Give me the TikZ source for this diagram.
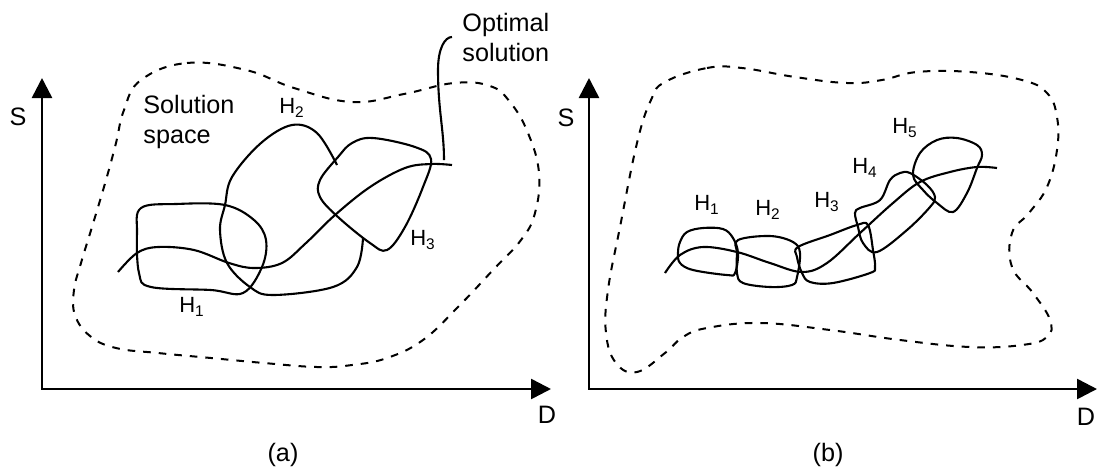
\documentclass[tikz,border=0pt]{standalone}
\usepackage{fontspec}
\setmainfont{Liberation Sans}
\usetikzlibrary{arrows.meta}

\begin{document}
\begin{tikzpicture}[x=0.5pt, y=-0.5pt,
  axis/.style={line width=1.3pt, {Triangle[length=10pt,width=10pt]}-{Triangle[length=10pt,width=10pt]}},
  region/.style={line width=1pt, dash pattern=on 3.8pt off 4pt},
  blob/.style={line width=1.05pt},
  lbl/.style={font=\fontsize{12.6}{15}\selectfont, inner sep=0pt},
  hlbl/.style={font=\fontsize{11}{12}\selectfont, inner sep=0pt}]

\useasboundingbox (0,0) rectangle (1098,473);

% (a) axes
\coordinate (Oa) at (42,389);
\coordinate (Ya) at (42,78);
\coordinate (Xa) at (551,389);
\draw[axis] (Ya) -- (Oa) -- (Xa);
\node[lbl] (Sa) at (18,117) {S};
\node[lbl] (Da) at (547,415) {D};
\node[lbl] (capa) at (283,455) {(a)};

% (a) solution space
\draw[region] plot[smooth cycle, tension=0.7] coordinates {(141,80) (187,63) (246,70) (294,88) (352,102) (404,94) (454,83) (490,86) (510,102) (528,133) (539,173) (535,213) (521,240) (493,270) (458,307) (423,340) (387,358) (352,365) (317,367) (264,363) (211,358) (158,353) (116,348) (90,336) (75,315) (74,290) (81,263) (92,227) (106,180) (116,143) (124,110)};
\node[lbl, anchor=west, align=left] (space) at (143,122) {Solution\\space};

% (a) search regions
\draw[blob] plot[smooth cycle, tension=0.6] coordinates {(141,208) (176,204) (225,205) (254,220) (266,240) (262,267) (243,293) (211,290) (151,287) (139,273) (137,233)};
\draw[blob] plot[smooth, tension=0.6] coordinates {(363,238) (357,267) (333,287) (273,295) (250,287) (227,263) (220,230) (225,205) (232,177) (261,143) (292,125) (317,133) (337,165)};
\draw[blob] plot[smooth cycle, tension=0.6] coordinates {(352,143) (373,138) (415,147) (431,159) (423,187) (405,227) (387,250) (370,243) (338,217) (320,197) (320,180) (338,157)};
\node[hlbl] (h1a) at (192,307) {H\textsubscript{1}};
\node[hlbl] (h2a) at (292,108) {H\textsubscript{2}};
\node[hlbl] (h3a) at (423,240) {H\textsubscript{3}};

% (a) path of the search
\draw[blob] plot[smooth, tension=0.6] coordinates {(118,272) (137,253) (158,247) (194,250) (229,263) (254,268) (282,263) (306,243) (335,215) (370,187) (405,168) (431,164) (452,165)};
\coordinate (opta) at (444,160);
\node[lbl, anchor=west, align=left] (opt) at (462,37) {Optimal\\solution};
\draw[blob] ([xshift=-5]opt.west) .. controls (445,37) and (438,48) .. (438,70) .. controls (438,110) and (444,130) .. (opta);

% (b) axes
\coordinate (Ob) at (589,389);
\coordinate (Yb) at (589,78);
\coordinate (Xb) at (1097,389);
\draw[axis] (Yb) -- (Ob) -- (Xb);
\node[lbl] (Sb) at (566,118) {S};
\node[lbl] (Db) at (1086,417) {D};
\node[lbl] (capb) at (828,455) {(b)};

% (b) solution space
\draw[region] plot[smooth cycle, tension=0.7] coordinates {(665,82) (707,68) (742,68) (795,77) (847,83) (882,80) (917,72) (970,72) (1022,80) (1047,93) (1057,117) (1057,150) (1047,187) (1029,213) (1012,233) (1012,267) (1033,293) (1050,320) (1047,337) (1022,345) (970,347) (900,340) (830,330) (760,323) (707,328) (683,337) (665,353) (637,372) (616,363) (606,333) (608,290) (620,227) (637,143) (651,100)};

% (b) search regions
\draw[blob] plot[smooth cycle, tension=0.6] coordinates {(680,242) (687,232) (703,228) (723,229) (733,238) (738,253) (735,273) (727,275) (693,270) (680,263) (678,253)};
\draw[blob] plot[smooth cycle, tension=0.6] coordinates {(738,240) (770,236) (793,242) (800,253) (797,277) (792,285) (770,287) (743,283) (737,273) (737,253)};
\draw[blob] plot[smooth cycle, tension=0.6] coordinates {(798,247) (830,235) (857,225) (868,225) (873,250) (875,267) (870,273) (833,283) (810,282) (802,273) (797,257)};
\draw[blob] plot[smooth cycle, tension=0.6] coordinates {(855,213) (860,208) (880,200) (890,180) (900,173) (910,173) (927,185) (935,197) (930,207) (907,230) (877,252) (863,243) (858,227)};
\draw[blob] plot[smooth cycle, tension=0.6] coordinates {(913,175) (920,153) (937,140) (957,138) (977,145) (982,155) (977,168) (967,193) (953,212) (937,203) (923,190)};
\node[hlbl] (h1b) at (707,205) {H\textsubscript{1}};
\node[hlbl] (h2b) at (768,210) {H\textsubscript{2}};
\node[hlbl] (h3b) at (827,202) {H\textsubscript{3}};
\node[hlbl] (h4b) at (865,168) {H\textsubscript{4}};
\node[hlbl] (h5b) at (905,128) {H\textsubscript{5}};

% (b) path of the search
\draw[blob] plot[smooth, tension=0.6] coordinates {(665,273) (680,255) (703,247) (737,252) (770,263) (802,272) (827,263) (860,233) (893,203) (920,182) (950,172) (977,167) (997,168)};

\end{tikzpicture}
\end{document}
